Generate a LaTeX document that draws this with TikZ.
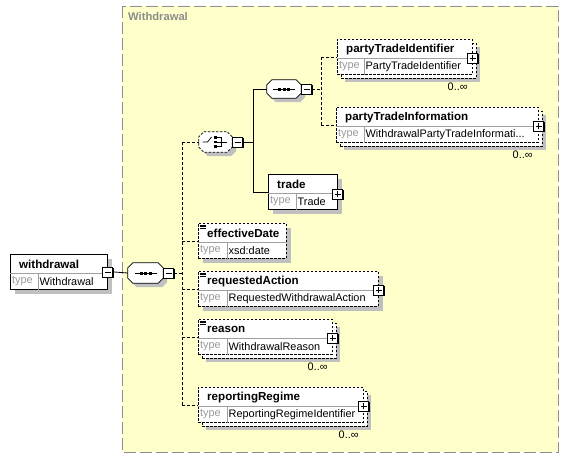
\documentclass[tikz,border=0pt]{standalone}
\usepackage{fontspec}
\setmainfont{Liberation Sans}
\usepackage{tikz}
\usetikzlibrary{shadows,calc}

\definecolor{panelbg}{HTML}{FFFFCC}
\definecolor{panelline}{HTML}{8C8C8C}
\definecolor{shadowgrey}{HTML}{C0C0C0}
\definecolor{typegrey}{HTML}{999999}
\definecolor{divgrey}{HTML}{A0A0A0}

\tikzset{
    elsolid/.style={draw, line width=0.8pt, fill=white, inner sep=0pt,
        drop shadow={shadow xshift=5pt, shadow yshift=-5pt, fill=shadowgrey, opacity=1}},
    elopt/.style={elsolid, dash pattern=on 2.5pt off 1.5pt},
    elmulti/.style={draw, line width=0.8pt, fill=white, inner sep=0pt, dash pattern=on 2.5pt off 1.5pt,
        drop shadow={shadow xshift=8pt, shadow yshift=-8pt, fill=shadowgrey, opacity=1},
        copy shadow={shadow xshift=4pt, shadow yshift=-4pt, line width=0.8pt, dash pattern=on 2.5pt off 1.5pt}},
    divline/.style={draw=divgrey, line width=0.7pt},
    eltitle/.style={font=\fontsize{11.6}{13}\selectfont\bfseries, inner sep=1pt},
    eltype/.style={font=\fontsize{10.9}{12}\selectfont, text=typegrey, inner sep=1.5pt},
    occlabel/.style={font=\fontsize{10.9}{12}\selectfont, inner sep=1pt},
    panellabel/.style={font=\fontsize{11.2}{13}\selectfont\bfseries, text=panelline, inner sep=1pt},
    compbox/.style={rectangle, minimum width=34pt, minimum height=19pt, inner sep=0pt},
    octline/.style={draw, line width=0.8pt, fill=white},
    octdashed/.style={octline, dash pattern=on 2.5pt off 1.5pt},
    minusbox/.style={draw, fill=white, line width=0.8pt, minimum size=10pt, inner sep=0pt,
        drop shadow={shadow xshift=1pt, shadow yshift=-1pt, fill=black, opacity=1},
        path picture={\draw[line width=0.8pt] ([xshift=2pt]path picture bounding box.west) -- ([xshift=-2pt]path picture bounding box.east);}},
    plusbox/.style={minusbox,
        path picture={\draw[line width=0.8pt] ([xshift=2pt]path picture bounding box.west) -- ([xshift=-2pt]path picture bounding box.east)
            ([yshift=-2pt]path picture bounding box.north) -- ([yshift=2pt]path picture bounding box.south);}},
    solidconn/.style={draw, line width=0.8pt},
    optconn/.style={draw, line width=0.8pt, dash pattern=on 3pt off 2pt},
}

% 元素框: 样式, 名字, x, y, 宽, 类型列, 名称, 类型
\newcommand{\xsdbox}[8]{%
    \node[#1, anchor=north west, minimum width=#5pt, minimum height=35pt] (#2) at (#3,#4) {};
    \draw[divline] ($(#2.north west)+(0,19)$) -- ($(#2.north east)+(0,19)$);
    \draw[divline] ($(#2.north west)+(#6,19)$) -- ($(#2.south west)+(#6,0)$);
    \node[eltitle, anchor=west] (#2-name) at ($(#2.north west)+(8,10.5)$) {#7};
    \node[eltype, anchor=west] (#2-label) at ($(#2.north west)+(0.5,27.5)$) {type};
    \node[eltype, anchor=west, text=black] (#2-type) at ($(#2.north west)+(#6,27.5)$) {#8};
}
% 八边形: 样式, 名字
\newcommand{\octagon}[2]{%
    \fill[shadowgrey] ($(#2.north west)+(9,4)$) -- ($(#2.north east)+(-1,4)$) -- ($(#2.north east)+(4,9)$) -- ($(#2.south east)+(4,-1)$)
        -- ($(#2.south east)+(-1,4)$) -- ($(#2.south west)+(9,4)$) -- ($(#2.south west)+(4,-1)$) -- ($(#2.north west)+(4,9)$) -- cycle;
    \path[#1] ($(#2.north west)+(5,0)$) -- ($(#2.north east)+(-5,0)$) -- ($(#2.north east)+(0,5)$) -- ($(#2.south east)+(0,-5)$)
        -- ($(#2.south east)+(-5,0)$) -- ($(#2.south west)+(5,0)$) -- ($(#2.south west)+(0,-5)$) -- ($(#2.north west)+(0,5)$) -- cycle;
}
% 简单类型标记
\newcommand{\simpleicon}[1]{%
    \foreach \k in {0,1,2}
        \draw[line width=0.5pt] ($(#1.north west)+(2,2+1.7*\k)$) -- ++(6,0);
}
% 顺序标记
\newcommand{\seqicon}[1]{%
    \draw[line width=0.8pt] ($(#1.center)+(-11,0)$) -- ($(#1.center)+(11,0)$);
    \foreach \d in {-4.5,0,4.5}
        \fill ($(#1.center)+(\d-1.5,-1.5)$) rectangle ++(3,3);
}

\begin{document}
\begin{tikzpicture}[x=1pt, y=-1pt]
    \useasboundingbox (0,0) rectangle (569,459);

    % 背景
    \draw[fill=panelbg, draw=panelline, line width=1pt, dash pattern=on 12pt off 4pt] (122,6) rectangle (558,452);
    \node[panellabel, anchor=north west] (panelTitle) at (127,11) {Withdrawal};

    % 根元素
    \xsdbox{elsolid}{withdrawal}{10}{254}{97}{28}{withdrawal}{Withdrawal}
    \node[minusbox] (withdrawal-minus) at (withdrawal.east) {};

    % 外层顺序
    \node[compbox, minimum width=35pt, minimum height=20pt] (seqMain) at (145.5,273) {};
    \octagon{octline}{seqMain}
    \seqicon{seqMain}
    \node[minusbox] (seqMain-minus) at ($(seqMain.east)+(5.5,0)$) {};

    % 选择
    \node[compbox, minimum width=33pt, minimum height=20pt] (choiceA) at (215.5,142) {};
    \octagon{octdashed}{choiceA}
    \draw[line width=0.7pt] ($(choiceA.center)+(-13,0)$) -- ($(choiceA.center)+(-8,0)$) -- ($(choiceA.center)+(-4,-5)$);
    \foreach \d in {-4.5,0,4.5}
        \fill ($(choiceA.center)+(-1.3,\d-1.3)$) rectangle ++(2.6,2.6);
    \draw[line width=0.7pt] ($(choiceA.center)+(1,-4.5)$) -- ($(choiceA.center)+(6,-4.5)$) -- ($(choiceA.center)+(6,4.5)$) -- ($(choiceA.center)+(1,4.5)$)
        ($(choiceA.center)+(1,0)$) -- ($(choiceA.center)+(11,0)$);
    \node[minusbox] (choiceA-minus) at ($(choiceA.east)+(5.5,0)$) {};

    % 内层顺序
    \node[compbox, minimum height=18pt] (seqParty) at (284,89) {};
    \octagon{octline}{seqParty}
    \seqicon{seqParty}
    \node[minusbox] (seqParty-minus) at ($(seqParty.east)+(5.5,0)$) {};

    \xsdbox{elmulti}{partyTradeIdentifier}{337}{39}{135}{27}{partyTradeIdentifier}{PartyTradeIdentifier}
    \node[plusbox] (partyTradeIdentifier-plus) at ([yshift=-1pt]partyTradeIdentifier.east) {};
    \node[occlabel, anchor=north east] (partyTradeIdentifier-occ) at ($(partyTradeIdentifier.south east)+(-4,7)$) {0..∞};

    \xsdbox{elmulti}{partyTradeInformation}{336}{107}{202}{28}{partyTradeInformation}{WithdrawalPartyTradeInformati...}
    \node[plusbox] (partyTradeInformation-plus) at ([yshift=-1pt]partyTradeInformation.east) {};
    \node[occlabel, anchor=north east] (partyTradeInformation-occ) at ($(partyTradeInformation.south east)+(-5,7)$) {0..∞};

    \xsdbox{elsolid}{trade}{268}{174}{69}{28}{trade}{Trade}
    \node[plusbox] (trade-plus) at ([yshift=-2pt]trade.east) {};

    % 其余子元素
    \xsdbox{elopt}{effectiveDate}{198}{223}{88}{29}{effectiveDate}{xsd:date}
    \simpleicon{effectiveDate}

    \xsdbox{elopt}{requestedAction}{198}{271}{180}{29}{requestedAction}{RequestedWithdrawalAction}
    \simpleicon{requestedAction}
    \node[plusbox] (requestedAction-plus) at ([yshift=-1pt]requestedAction.east) {};

    \xsdbox{elmulti}{reason}{198}{319}{134}{29}{reason}{WithdrawalReason}
    \simpleicon{reason}
    \node[plusbox] (reason-plus) at ([yshift=-1pt]reason.east) {};
    \node[occlabel, anchor=north east] (reason-occ) at ($(reason.south east)+(-4,7)$) {0..∞};

    \xsdbox{elmulti}{reportingRegime}{198}{387}{165}{29}{reportingRegime}{ReportingRegimeIdentifier}
    \node[plusbox] (reportingRegime-plus) at ([yshift=-1pt]reportingRegime.east) {};
    \node[occlabel, anchor=north east] (reportingRegime-occ) at ($(reportingRegime.south east)+(-4,7)$) {0..∞};

    % 连线
    \path[solidconn] (withdrawal-minus.east) -- (seqMain.west);
    \coordinate (mainFork) at ($(seqMain-minus.east)+(8,0)$);
    \path[optconn] (seqMain-minus.east) -- (mainFork);
    \path[optconn] (choiceA.west -| mainFork) -- (reportingRegime.west -| mainFork);
    \foreach \n in {choiceA,effectiveDate,requestedAction,reason,reportingRegime}
        \path[optconn] (\n.west -| mainFork) -- (\n.west);

    \coordinate (choiceFork) at ($(choiceA-minus.east)+(10,0)$);
    \path[solidconn] (choiceA-minus.east) -- (choiceFork);
    \path[solidconn] (seqParty.west -| choiceFork) -- (trade.west -| choiceFork);
    \path[solidconn] (seqParty.west -| choiceFork) -- (seqParty.west);
    \path[solidconn] (trade.west -| choiceFork) -- (trade.west);

    \coordinate (partyFork) at ($(seqParty-minus.east)+(9,0)$);
    \path[optconn] (seqParty-minus.east) -- (partyFork);
    \path[optconn] (partyTradeIdentifier.west -| partyFork) -- (partyTradeInformation.west -| partyFork);
    \path[optconn] (partyTradeIdentifier.west -| partyFork) -- (partyTradeIdentifier.west);
    \path[optconn] (partyTradeInformation.west -| partyFork) -- (partyTradeInformation.west);
\end{tikzpicture}
\end{document}
